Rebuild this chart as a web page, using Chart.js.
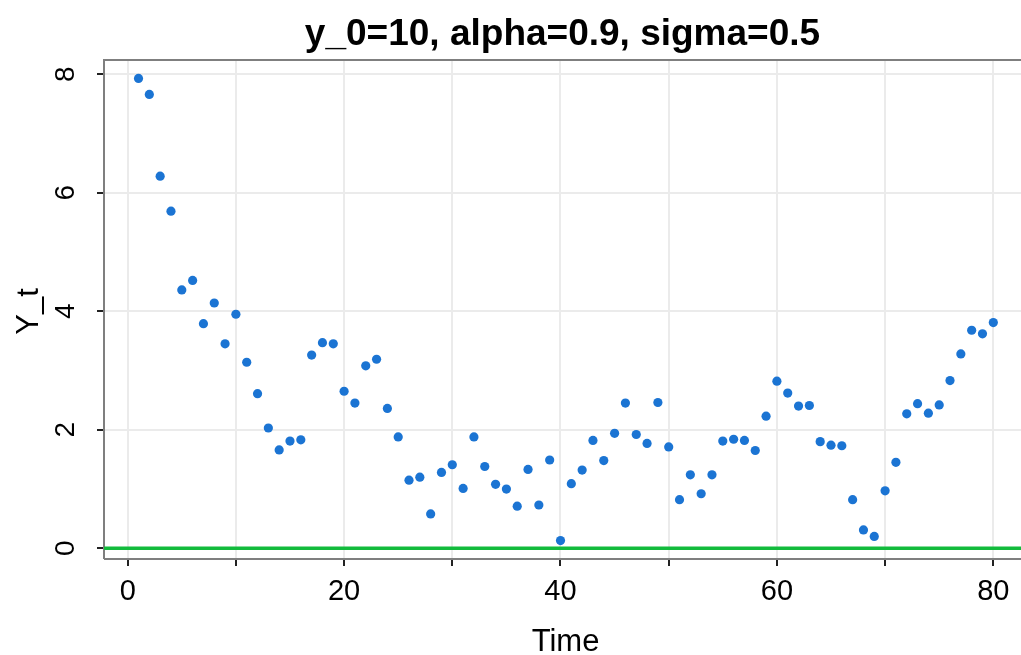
<!DOCTYPE html>
<html>
<head>
<meta charset="utf-8">
<script src="https://cdn.jsdelivr.net/npm/chart.js@4/dist/chart.umd.min.js"></script>
<style>
html,body{margin:0;padding:0;background:#fff;}
#wrap{width:1021px;height:655px;position:relative;}
</style>
</head>
<body>
<div id="wrap"><canvas id="c"></canvas></div>
<script>
const chartTitle = "y_0=10, alpha=0.9, sigma=0.5";
const xTitle = "Time";
const yTitle = "Y_t";
const time = [1,2,3,4,5,6,7,8,9,10,11,12,13,14,15,16,17,18,19,20,
  21,22,23,24,25,26,27,28,29,30,31,32,33,34,35,36,37,38,39,40,
  41,42,43,44,45,46,47,48,49,50,51,52,53,54,55,56,57,58,59,60,
  61,62,63,64,65,66,67,68,69,70,71,72,73,74,75,76,77,78,79,80];
const yValues = [7.93,7.66,6.28,5.69,4.36,4.52,3.79,4.14,3.45,3.95,
  3.14,2.61,2.03,1.66,1.81,1.83,3.26,3.47,3.45,2.65,
  2.45,3.08,3.19,2.36,1.88,1.15,1.20,0.58,1.28,1.41,
  1.01,1.88,1.38,1.08,1.00,0.71,1.33,0.73,1.49,0.13,
  1.09,1.32,1.82,1.48,1.94,2.45,1.92,1.77,2.46,1.71,
  0.82,1.24,0.92,1.24,1.81,1.84,1.82,1.65,2.23,2.82,
  2.62,2.40,2.41,1.80,1.74,1.73,0.82,0.31,0.20,0.97,
  1.45,2.27,2.44,2.28,2.42,2.83,3.28,3.68,3.62,3.81];
const refLevel = 0;
const xRange = [-2.19, 82.56];
const yRange = [-0.181, 8.241];
const xTickLabels = [0,20,40,60,80];
const yTickLabels = [0,2,4,6,8];

const FONT = "'Liberation Sans', Arial, Helvetica, sans-serif";

const points = time.map((t,i)=>({x:t,y:yValues[i]}));
const refLine = [{x:xRange[0],y:refLevel},{x:xRange[1],y:refLevel}];

const decor = {
  id:'decor',
  beforeDatasetsDraw(chart){
    const a = chart.chartArea;
    const ctx = chart.ctx;
    ctx.save();
    ctx.strokeStyle = '#7f7f7f';
    ctx.lineWidth = 2;
    ctx.beginPath();
    ctx.moveTo(a.left, a.bottom);
    ctx.lineTo(a.left, a.top);
    ctx.lineTo(a.right+2, a.top);
    ctx.moveTo(a.left, a.bottom);
    ctx.lineTo(a.right+2, a.bottom);
    ctx.stroke();
    ctx.restore();
  },
  afterDraw(chart){
    const a = chart.chartArea;
    const ctx = chart.ctx;
    const ys = chart.scales.y;
    ctx.save();
    ctx.fillStyle = '#000';
    // title
    ctx.font = "bold 37px " + FONT;
    ctx.textAlign = 'center';
    ctx.textBaseline = 'alphabetic';
    ctx.fillText(chartTitle, (a.left+a.right)/2, 45);
    // x title
    ctx.font = "31px " + FONT;
    ctx.fillText(xTitle, (a.left+a.right)/2 + 3, 651);
    // y tick labels rotated
    ctx.font = "28px " + FONT;
    yTickLabels.forEach(v=>{
      const py = ys.getPixelForValue(v);
      ctx.save();
      ctx.translate(74, py);
      ctx.rotate(-Math.PI/2);
      ctx.textAlign='center';
      ctx.textBaseline='alphabetic';
      ctx.fillText(String(v),0,0);
      ctx.restore();
    });
    // y title
    ctx.save();
    ctx.font = "31px " + FONT;
    ctx.translate(38, (a.top+a.bottom)/2 + 2);
    ctx.rotate(-Math.PI/2);
    ctx.textAlign='center';
    ctx.textBaseline='alphabetic';
    ctx.fillText(yTitle,0,0);
    ctx.restore();
    ctx.restore();
  }
};

new Chart(document.getElementById('c'), {
  type:'scatter',
  data:{
    datasets:[
      {
        type:'line',
        data: refLine,
        borderColor:'#12bb3c',
        borderWidth:3.5,
        pointRadius:0,
        fill:false,
        order:2
      },
      {
        data: points,
        backgroundColor:'#1b74d3',
        borderColor:'#1b74d3',
        borderWidth:0,
        pointRadius:4.6,
        order:1
      }
    ]
  },
  options:{
    responsive:true,
    maintainAspectRatio:false,
    animation:false,
    devicePixelRatio:1,
    layout:{autoPadding:false, padding:{top:60,left:0,right:0,bottom:0}},
    plugins:{legend:{display:false},tooltip:{enabled:false},title:{display:false}},
    scales:{
      x:{
        type:'linear',
        min:xRange[0], max:xRange[1],
        afterFit(s){ s.height = 96; s.paddingLeft = 0; s.paddingRight = 0; },
        border:{display:false},
        grid:{color:'#ebebeb', lineWidth:2, tickColor:'#222', tickLength:7, tickWidth:2},
        ticks:{
          stepSize:10, includeBounds:false, autoSkip:false, maxRotation:0, minRotation:0,
          padding:9,
          color:'#000',
          font:{family:FONT, size:29},
          callback(v){ return xTickLabels.includes(v) ? String(v) : ''; }
        }
      },
      y:{
        type:'linear',
        min:yRange[0], max:yRange[1],
        afterFit(s){ s.width = 104; s.paddingTop = 0; s.paddingBottom = 0; },
        border:{display:false},
        grid:{color:'#ebebeb', lineWidth:2, tickColor:'#222', tickLength:7, tickWidth:2},
        ticks:{
          stepSize:2, includeBounds:false, autoSkip:false,
          color:'rgba(0,0,0,0)',
          font:{family:FONT, size:28},
          callback(v){ return yTickLabels.includes(v) ? String(v) : ''; }
        }
      }
    }
  },
  plugins:[decor]
});
</script>
</body>
</html>
